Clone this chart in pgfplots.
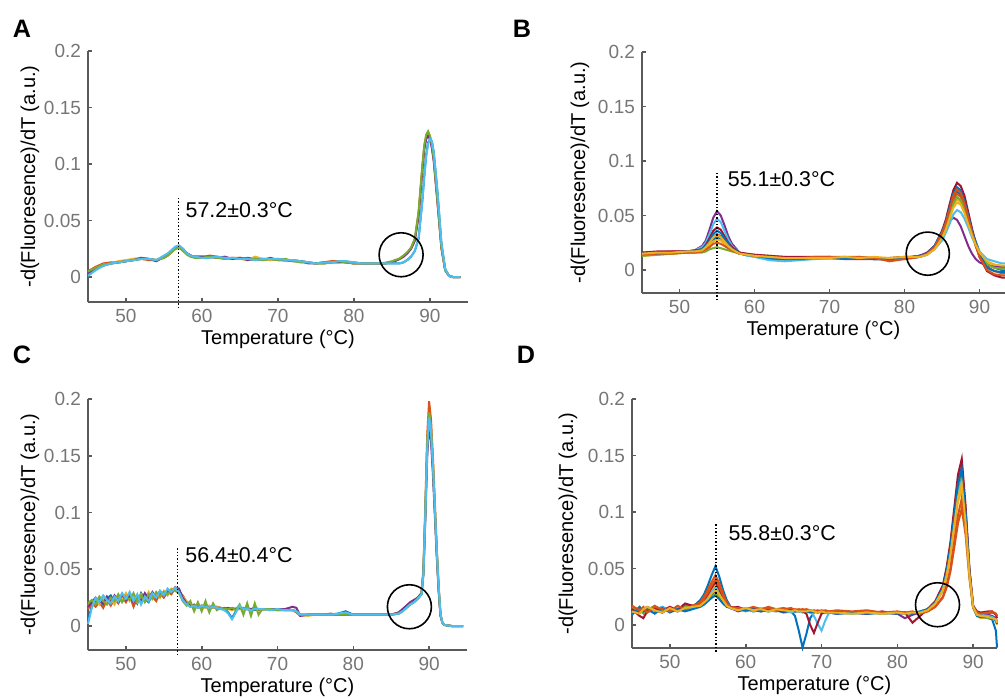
\documentclass[border=0pt]{standalone}
\usepackage{fontspec}
\setmainfont{Liberation Sans}
\usepackage{pgfplots}
\usepackage{pgfplotstable}
\pgfplotsset{compat=1.18}

% MATLAB default line colours
\definecolor{mblue}{RGB}{0,114,189}
\definecolor{morange}{RGB}{217,83,25}
\definecolor{myellow}{RGB}{237,177,32}
\definecolor{mpurple}{RGB}{126,47,142}
\definecolor{mgreen}{RGB}{119,172,48}
\definecolor{mlblue}{RGB}{77,190,238}
\definecolor{mred}{RGB}{162,20,47}
\definecolor{axgray}{RGB}{90,90,90}
\definecolor{txgray}{RGB}{118,118,118}

\pgfplotsset{
  melt/.style={
    scale only axis,
    axis lines=left,
    axis line style={-, axgray, line width=1pt},
    tick align=inside,
    major tick length=2pt,
    tick style={axgray, line width=0.8pt},
    xmin=45, ymax=0.2,
    xtick={50,60,70,80,90},
    ytick={0,0.05,0.1,0.15,0.2},
    yticklabels={0,0.05,0.1,0.15,0.2},
    /pgf/number format/assume math mode=true,
    tick label style={font=\fontsize{9.5}{11}\selectfont, text=txgray},
    label style={font=\fontsize{10.4}{12}\selectfont, text=txgray},
    every axis x label/.style={at={(axis description cs:0.5,0)}, anchor=center, yshift=-18.5pt},
    every axis y label/.style={at={(axis description cs:0,0.5)}, anchor=center, xshift=-29pt, rotate=90},
    xlabel={Temperature (°C)},
    ylabel={-d(Fluoresence)/dT (a.u.)},
    clip=false,
    cycle list={{mblue},{morange},{myellow},{mpurple},{mgreen},{mlblue},{mred}},
    every axis plot/.append style={line width=1pt, mark=none},
  },
}
\tikzset{
  tmark/.style={densely dotted, black, line width=0.7pt},
  tnote/.style={anchor=west, inner sep=0pt, font=\fontsize{10.7}{12}\selectfont},
  ring/.style={black, line width=0.8pt},
  plabel/.style={font=\bfseries\fontsize{12.6}{14}\selectfont},
}

% panel A: T, six runs
\pgfplotstableread{
T c1 c2 c3 c4 c5 c6
45 0.003 0.005 0.004 0.004 0.005 0.001
46 0.008 0.009 0.008 0.007 0.008 0.006
47 0.011 0.012 0.011 0.010 0.011 0.010
48 0.012 0.013 0.012 0.012 0.012 0.012
49 0.013 0.013 0.014 0.013 0.013 0.013
50 0.014 0.014 0.015 0.014 0.014 0.014
51 0.015 0.016 0.016 0.015 0.015 0.015
52 0.016 0.016 0.017 0.017 0.016 0.016
53 0.016 0.015 0.016 0.016 0.016 0.016
54 0.015 0.015 0.015 0.014 0.015 0.015
55 0.018 0.017 0.018 0.018 0.017 0.019
55.5 0.020 0.019 0.020 0.020 0.019 0.021
56 0.023 0.022 0.023 0.023 0.022 0.024
56.5 0.026 0.025 0.026 0.026 0.025 0.027
57 0.027 0.026 0.027 0.027 0.026 0.028
57.5 0.025 0.024 0.024 0.024 0.023 0.025
58 0.021 0.021 0.020 0.021 0.020 0.021
58.5 0.019 0.019 0.018 0.019 0.018 0.019
59 0.018 0.018 0.018 0.018 0.017 0.018
60 0.018 0.017 0.018 0.018 0.017 0.017
61 0.018 0.019 0.017 0.018 0.018 0.017
62 0.017 0.018 0.018 0.017 0.017 0.018
63 0.017 0.016 0.017 0.018 0.016 0.017
64 0.016 0.017 0.016 0.016 0.017 0.017
65 0.016 0.017 0.016 0.017 0.016 0.016
66 0.017 0.016 0.015 0.015 0.016 0.016
67 0.016 0.015 0.018 0.016 0.016 0.015
68 0.016 0.016 0.016 0.015 0.015 0.016
69 0.015 0.016 0.015 0.017 0.016 0.016
70 0.016 0.015 0.016 0.015 0.015 0.016
71 0.015 0.015 0.014 0.015 0.016 0.015
72 0.015 0.014 0.015 0.014 0.014 0.015
73 0.014 0.014 0.013 0.014 0.013 0.014
74 0.013 0.013 0.013 0.012 0.013 0.013
75 0.012 0.012 0.012 0.012 0.012 0.012
76 0.012 0.013 0.012 0.013 0.012 0.013
77 0.013 0.014 0.013 0.013 0.013 0.013
78 0.014 0.014 0.013 0.013 0.014 0.014
79 0.013 0.013 0.014 0.013 0.013 0.014
80 0.013 0.012 0.012 0.012 0.012 0.013
81 0.012 0.012 0.012 0.012 0.012 0.012
82 0.012 0.012 0.012 0.012 0.012 0.012
83 0.012 0.012 0.012 0.012 0.012 0.012
84 0.012 0.012 0.012 0.012 0.0125 0.012
85 0.012 0.013 0.013 0.013 0.014 0.012
86 0.012 0.016 0.016 0.016 0.0165 0.012
86.5 0.013 0.018 0.018 0.018 0.019 0.013
87 0.015 0.021 0.021 0.021 0.022 0.015
87.5 0.018 0.025 0.025 0.025 0.026 0.018
88 0.023 0.033 0.033 0.032 0.034 0.023
88.5 0.034 0.056 0.056 0.054 0.058 0.034
89 0.068 0.097 0.097 0.095 0.099 0.068
89.25 0.090 0.115 0.115 0.113 0.117 0.089
89.5 0.108 0.124 0.124 0.122 0.126 0.107
89.75 0.119 0.127 0.127 0.125 0.129 0.118
90 0.122 0.124 0.124 0.122 0.125 0.122
90.25 0.120 0.116 0.116 0.114 0.117 0.120
90.5 0.110 0.104 0.104 0.102 0.105 0.110
91 0.074 0.066 0.066 0.065 0.067 0.074
91.5 0.030 0.026 0.026 0.026 0.027 0.030
92 0.007 0.006 0.006 0.006 0.006 0.007
92.5 0.001 0.001 0.001 0.001 0.001 0.001
93 0 0 0 0 0 0
94 0 0 0 0 0 0
}\tabA

% panel B: ten runs
\pgfplotstableread{
T c1 c2 c3 c4 c5 c6 c7 c8 c9 c10
45 0.014 0.016 0.013 0.015 0.013 0.014 0.016 0.015 0.014 0.015
47 0.015 0.016 0.014 0.016 0.014 0.015 0.017 0.015 0.015 0.016
49 0.016 0.017 0.015 0.016 0.015 0.016 0.017 0.016 0.015 0.016
51 0.016 0.017 0.016 0.017 0.016 0.017 0.017 0.017 0.016 0.017
52 0.017 0.017 0.016 0.018 0.016 0.018 0.018 0.017 0.016 0.017
53 0.018 0.019 0.018 0.022 0.016 0.021 0.019 0.019 0.017 0.018
53.5 0.020 0.021 0.020 0.027 0.017 0.025 0.023 0.022 0.019 0.021
54 0.024 0.025 0.023 0.037 0.019 0.033 0.029 0.027 0.021 0.025
54.5 0.028 0.030 0.026 0.048 0.020 0.042 0.036 0.033 0.024 0.030
55 0.030 0.033 0.028 0.054 0.021 0.047 0.039 0.036 0.025 0.032
55.5 0.029 0.031 0.027 0.050 0.020 0.044 0.037 0.034 0.024 0.030
56 0.025 0.027 0.024 0.041 0.019 0.036 0.031 0.029 0.022 0.026
56.5 0.021 0.022 0.021 0.031 0.018 0.028 0.025 0.024 0.020 0.022
57 0.018 0.019 0.018 0.024 0.017 0.022 0.021 0.020 0.018 0.019
58 0.015 0.015 0.015 0.016 0.015 0.016 0.016 0.015 0.015 0.015
59 0.014 0.014 0.014 0.014 0.014 0.013 0.015 0.014 0.014 0.014
60 0.013 0.013 0.013 0.013 0.014 0.012 0.014 0.013 0.013 0.013
62 0.010 0.012 0.012 0.012 0.013 0.009 0.013 0.011 0.012 0.012
64 0.009 0.011 0.011 0.011 0.012 0.008 0.012 0.010 0.011 0.011
66 0.010 0.011 0.011 0.011 0.011 0.009 0.012 0.010 0.011 0.011
68 0.011 0.011 0.011 0.011 0.011 0.010 0.012 0.011 0.012 0.011
70 0.011 0.012 0.011 0.011 0.011 0.011 0.012 0.011 0.012 0.011
72 0.011 0.011 0.012 0.010 0.011 0.011 0.011 0.011 0.012 0.012
74 0.011 0.012 0.011 0.010 0.011 0.011 0.011 0.011 0.012 0.011
76 0.010 0.011 0.011 0.010 0.010 0.011 0.011 0.010 0.011 0.012
78 0.010 0.009 0.011 0.010 0.010 0.011 0.011 0.010 0.008 0.011
80 0.011 0.011 0.012 0.011 0.011 0.011 0.012 0.011 0.010 0.012
81 0.011 0.012 0.012 0.012 0.011 0.012 0.012 0.012 0.011 0.012
82 0.012 0.013 0.012 0.013 0.012 0.012 0.013 0.013 0.012 0.012
83 0.015 0.015 0.014 0.016 0.014 0.014 0.015 0.015 0.015 0.014
84 0.021 0.021 0.020 0.022 0.020 0.019 0.022 0.022 0.021 0.019
85 0.033 0.032 0.030 0.032 0.030 0.027 0.036 0.035 0.034 0.029
85.5 0.042 0.041 0.038 0.039 0.039 0.034 0.046 0.044 0.043 0.037
86 0.054 0.053 0.049 0.045 0.050 0.042 0.060 0.057 0.055 0.047
86.5 0.066 0.064 0.060 0.048 0.061 0.051 0.073 0.070 0.068 0.057
87 0.072 0.070 0.065 0.046 0.067 0.055 0.080 0.076 0.074 0.062
87.5 0.069 0.067 0.062 0.040 0.064 0.053 0.077 0.073 0.071 0.060
88 0.060 0.058 0.054 0.031 0.056 0.047 0.068 0.063 0.061 0.052
88.5 0.048 0.046 0.044 0.022 0.045 0.039 0.053 0.050 0.048 0.042
89 0.036 0.033 0.033 0.015 0.034 0.030 0.038 0.036 0.034 0.032
89.5 0.026 0.022 0.024 0.010 0.024 0.023 0.024 0.024 0.022 0.023
90 0.017 0.013 0.016 0.007 0.015 0.017 0.012 0.014 0.012 0.016
91 0.006 0.003 0.007 0.004 0.005 0.010 -0.001 0.002 0.000 0.008
92 0.002 -0.001 0.004 0.003 0.002 0.008 -0.005 -0.001 -0.004 0.005
93 0.000 -0.003 0.002 0.003 0.001 0.006 -0.007 -0.002 -0.005 0.004
93.4 0.000 -0.003 0.002 0.003 0.001 0.006 -0.007 -0.002 -0.005 0.004
}\tabB

% panel C: six noisy runs
\pgfplotstableread{
T c1 c2 c3 c4 c5 c6
45.0 0.004 0.015 0.018 0.017 0.020 0.002
45.5 0.018 0.020 0.022 0.021 0.023 0.016
46.0 0.022 0.017 0.024 0.025 0.019 0.025
46.5 0.025 0.021 0.019 0.022 0.026 0.021
47.0 0.019 0.016 0.025 0.020 0.022 0.027
47.5 0.024 0.023 0.021 0.026 0.019 0.023
48.0 0.027 0.018 0.024 0.021 0.025 0.020
48.5 0.021 0.024 0.019 0.027 0.022 0.026
49.0 0.025 0.020 0.027 0.022 0.028 0.022
49.5 0.022 0.026 0.023 0.028 0.021 0.029
50.0 0.028 0.021 0.029 0.023 0.026 0.024
50.5 0.023 0.027 0.022 0.026 0.023 0.030
51.0 0.027 0.017 0.026 0.021 0.029 0.022
51.5 0.020 0.025 0.021 0.027 0.022 0.028
52.0 0.029 0.021 0.028 0.022 0.027 0.019
52.5 0.024 0.028 0.023 0.029 0.021 0.026
53.0 0.021 0.023 0.030 0.024 0.028 0.022
53.5 0.028 0.026 0.024 0.030 0.024 0.029
54.0 0.024 0.022 0.029 0.025 0.030 0.025
54.5 0.030 0.029 0.025 0.031 0.026 0.031
55.0 0.026 0.025 0.031 0.027 0.030 0.027
55.5 0.031 0.030 0.027 0.032 0.028 0.033
56.0 0.029 0.028 0.033 0.030 0.032 0.030
56.5 0.033 0.034 0.032 0.034 0.031 0.034
57.0 0.032 0.030 0.031 0.033 0.029 0.030
57.5 0.024 0.027 0.026 0.025 0.022 0.023
58.0 0.020 0.021 0.022 0.020 0.018 0.019
58.5 0.018 0.017 0.019 0.018 0.022 0.017
59.0 0.017 0.019 0.017 0.018 0.013 0.018
59.5 0.018 0.016 0.018 0.017 0.021 0.016
60.0 0.016 0.018 0.017 0.018 0.013 0.018
60.5 0.018 0.017 0.016 0.017 0.022 0.017
61.0 0.017 0.016 0.018 0.016 0.012 0.016
61.5 0.016 0.017 0.016 0.017 0.020 0.017
62.0 0.017 0.016 0.017 0.016 0.014 0.016
62.5 0.016 0.015 0.016 0.016 0.016 0.015
63.0 0.015 0.016 0.015 0.015 0.015 0.014
63.5 0.012 0.015 0.015 0.016 0.015 0.011
64.0 0.007 0.016 0.014 0.015 0.016 0.006
64.5 0.013 0.015 0.016 0.015 0.014 0.012
65.0 0.017 0.015 0.015 0.016 0.019 0.018
65.5 0.015 0.016 0.015 0.015 0.010 0.015
66.0 0.015 0.015 0.016 0.015 0.020 0.015
66.5 0.015 0.015 0.015 0.015 0.009 0.014
67.0 0.014 0.015 0.015 0.016 0.020 0.015
67.5 0.015 0.014 0.015 0.015 0.010 0.015
68.0 0.015 0.015 0.014 0.015 0.015 0.015
69 0.015 0.014 0.015 0.015 0.015 0.014
70 0.014 0.015 0.014 0.015 0.014 0.015
71 0.014 0.014 0.015 0.015 0.014 0.014
72 0.014 0.014 0.014 0.017 0.014 0.014
72.5 0.013 0.012 0.013 0.016 0.013 0.013
73 0.010 0.009 0.010 0.009 0.010 0.010
74 0.010 0.010 0.009 0.010 0.010 0.010
75 0.010 0.010 0.010 0.010 0.010 0.010
76 0.010 0.010 0.010 0.010 0.010 0.010
77 0.010 0.011 0.010 0.010 0.010 0.010
78 0.011 0.010 0.010 0.010 0.010 0.011
79 0.013 0.010 0.011 0.010 0.010 0.012
80 0.010 0.010 0.010 0.010 0.010 0.010
82 0.010 0.010 0.010 0.010 0.010 0.010
84 0.010 0.010 0.010 0.010 0.010 0.010
85 0.010 0.010 0.010 0.010 0.010 0.010
86 0.011 0.012 0.012 0.012 0.011 0.011
86.5 0.013 0.014 0.014 0.015 0.013 0.013
87 0.016 0.017 0.017 0.018 0.016 0.016
87.5 0.019 0.020 0.020 0.021 0.019 0.019
88 0.021 0.022 0.022 0.023 0.021 0.021
88.5 0.024 0.025 0.025 0.025 0.024 0.024
89 0.028 0.029 0.029 0.029 0.028 0.028
89.25 0.047 0.050 0.048 0.046 0.048 0.046
89.5 0.098 0.105 0.100 0.094 0.101 0.097
89.75 0.156 0.168 0.160 0.150 0.161 0.155
90 0.184 0.198 0.188 0.176 0.188 0.184
90.25 0.170 0.182 0.173 0.163 0.173 0.171
90.5 0.140 0.150 0.143 0.134 0.143 0.142
90.75 0.103 0.110 0.105 0.099 0.105 0.105
91 0.066 0.070 0.067 0.063 0.067 0.068
91.25 0.034 0.035 0.034 0.032 0.034 0.036
91.5 0.010 0.010 0.010 0.009 0.010 0.011
91.75 0.003 0.003 0.003 0.003 0.003 0.003
92 0.001 0.001 0.001 0.001 0.001 0.001
93 0 0 0 0 0 0
94.5 0 0 0 0 0 0
}\tabC

% panel D: ten noisy runs
\pgfplotstableread{
T c1 c2 c3 c4 c5 c6 c7 c8 c9 c10
45 0.012 0.015 0.010 0.013 0.016 0.011 0.014 0.009 0.017 0.012
46 0.014 0.012 0.016 0.011 0.013 0.015 0.008 0.016 0.013 0.010
46.5 0.011 0.016 0.012 0.014 0.010 0.013 0.006 0.012 0.015 0.014
47 0.015 0.013 0.014 0.016 0.014 0.011 0.012 0.014 0.011 0.016
48 0.012 0.017 0.011 0.013 0.016 0.014 0.015 0.010 0.016 0.013
49 0.016 0.013 0.015 0.011 0.012 0.016 0.011 0.015 0.014 0.011
50 0.013 0.016 0.012 0.015 0.015 0.012 0.016 0.011 0.012 0.015
51 0.015 0.012 0.016 0.012 0.013 0.015 0.013 0.014 0.017 0.012
52 0.014 0.018 0.013 0.015 0.016 0.013 0.019 0.012 0.014 0.015
53 0.016 0.017 0.015 0.015 0.015 0.016 0.017 0.014 0.017 0.016
54 0.022 0.020 0.018 0.017 0.017 0.018 0.019 0.016 0.019 0.017
54.5 0.027 0.025 0.021 0.020 0.019 0.021 0.022 0.018 0.023 0.020
55 0.035 0.031 0.026 0.023 0.022 0.024 0.027 0.021 0.028 0.023
55.5 0.044 0.038 0.031 0.027 0.025 0.029 0.033 0.024 0.035 0.028
56 0.052 0.044 0.035 0.030 0.028 0.033 0.038 0.026 0.040 0.031
56.5 0.043 0.037 0.030 0.026 0.025 0.028 0.032 0.023 0.034 0.027
57 0.031 0.028 0.023 0.021 0.020 0.023 0.025 0.019 0.026 0.022
57.5 0.022 0.020 0.018 0.017 0.017 0.018 0.019 0.016 0.019 0.017
58 0.016 0.016 0.015 0.015 0.015 0.015 0.015 0.015 0.015 0.015
59 0.013 0.015 0.014 0.012 0.014 0.013 0.016 0.014 0.015 0.013
60 0.014 0.013 0.015 0.014 0.012 0.015 0.013 0.013 0.014 0.015
61 0.012 0.015 0.013 0.013 0.014 0.012 0.015 0.014 0.016 0.013
62 0.013 0.014 0.015 0.012 0.013 0.014 0.013 0.012 0.014 0.014
63 0.012 0.016 0.013 0.014 0.012 0.013 0.014 0.013 0.015 0.012
64 0.013 0.014 0.012 0.013 0.014 0.012 0.013 0.014 0.013 0.014
65 0.011 0.015 0.013 0.012 0.013 0.013 0.012 0.012 0.014 0.013
66 0.012 0.013 0.012 0.013 0.012 0.011 0.013 0.013 0.015 0.012
66.5 0.008 0.014 0.013 0.012 0.013 0.012 0.012 0.012 0.013 0.013
67 -0.005 0.013 0.012 0.013 0.012 0.012 0.013 0.012 0.014 0.012
67.5 -0.020 0.014 0.013 0.012 0.012 0.011 0.012 0.013 0.013 0.012
68 -0.008 0.013 0.012 0.012 0.013 0.012 0.010 0.012 0.014 0.012
68.5 0.006 0.012 0.012 0.013 0.012 0.012 0.000 0.011 0.013 0.013
69 0.011 0.013 0.011 0.012 0.012 0.008 -0.007 0.012 0.012 0.012
69.5 0.012 0.012 0.012 0.011 0.012 0.001 0.002 0.011 0.013 0.011
70 0.011 0.013 0.011 0.012 0.011 -0.005 0.010 0.012 0.012 0.012
70.5 0.011 0.012 0.012 0.011 0.011 0.004 0.012 0.011 0.013 0.011
71 0.011 0.012 0.011 0.011 0.012 0.011 0.011 0.011 0.012 0.011
72 0.010 0.012 0.011 0.010 0.011 0.011 0.012 0.010 0.013 0.011
74 0.011 0.011 0.010 0.011 0.010 0.010 0.011 0.011 0.012 0.010
76 0.010 0.012 0.011 0.010 0.011 0.011 0.010 0.010 0.013 0.011
78 0.011 0.010 0.010 0.011 0.010 0.010 0.012 0.011 0.011 0.010
80 0.010 0.011 0.011 0.010 0.011 0.011 0.010 0.010 0.012 0.011
81 0.011 0.010 0.010 0.006 0.010 0.010 0.011 0.011 0.011 0.010
82 0.010 0.011 0.010 0.009 0.011 0.011 0.002 0.010 0.012 0.011
83 0.011 0.011 0.011 0.011 0.011 0.012 0.008 0.012 0.010 0.011
84 0.014 0.012 0.013 0.014 0.014 0.014 0.014 0.014 0.012 0.013
85 0.020 0.016 0.019 0.020 0.020 0.019 0.021 0.020 0.016 0.019
86 0.032 0.024 0.030 0.033 0.033 0.031 0.035 0.033 0.025 0.031
86.5 0.047 0.033 0.043 0.049 0.048 0.045 0.051 0.048 0.035 0.044
87 0.066 0.047 0.061 0.070 0.068 0.064 0.073 0.069 0.050 0.063
87.5 0.093 0.068 0.085 0.098 0.095 0.090 0.103 0.097 0.073 0.088
88 0.120 0.090 0.109 0.127 0.123 0.116 0.133 0.125 0.097 0.113
88.5 0.132 0.103 0.120 0.140 0.135 0.128 0.147 0.138 0.112 0.125
89 0.095 0.080 0.087 0.101 0.098 0.093 0.106 0.100 0.088 0.091
89.5 0.047 0.042 0.043 0.049 0.048 0.045 0.051 0.048 0.046 0.045
90 0.016 0.015 0.015 0.016 0.016 0.016 0.017 0.016 0.016 0.016
90.5 0.009 0.010 0.008 0.011 0.009 0.010 0.012 0.008 0.011 0.009
91 0.007 0.009 0.006 0.010 0.008 0.009 0.011 0.007 0.010 0.008
92 0.006 0.010 0.007 0.009 0.006 0.008 0.012 0.007 0.011 0.007
92.5 0.005 0.011 0.006 0.008 0.007 0.007 0.012 0.006 0.012 0.006
93 -0.005 0.010 0.003 0.006 0.004 0.005 0.009 0.004 0.010 0.005
93.15 -0.020 0.008 0.000 0.003 0.001 0.002 0.006 0.001 0.008 0.002
}\tabD

\begin{document}
\begin{tikzpicture}
\useasboundingbox (0,0) rectangle (502.5pt,349pt);

% A
\begin{axis}[melt, at={(44pt,198pt)}, anchor=south west,
  width=190pt, height=125.5pt, xmax=95, ymin=-0.0221]
  \pgfplotsinvokeforeach{1,...,6}{\addplot table[x index=0, y index=#1] {\tabA};}
  \draw[tmark] (axis cs:56.9,0.07) -- (axis cs:56.9,-0.027);
  \node[tnote] at (axis cs:57.8,0.059) {57.2±0.3°C};
  \draw[ring] (axis cs:86.2,0.0197) circle[radius=11pt];
\end{axis}

% B
\begin{axis}[melt, at={(321pt,202.5pt)}, anchor=south west,
  width=181.5pt, height=120.5pt, xmax=93.4, ymin=-0.0211,
  ylabel style={yshift=2pt}]
  \pgfplotsinvokeforeach{1,...,10}{\addplot table[x index=0, y index=#1] {\tabB};}
  \draw[tmark] (axis cs:55.0,0.089) -- (axis cs:55.0,-0.027);
  \node[tnote] at (axis cs:56.4,0.083) {55.1±0.3°C};
  \draw[ring] (axis cs:83.1,0.015) circle[radius=10.8pt];
\end{axis}

% C
\begin{axis}[melt, at={(44pt,24pt)}, anchor=south west,
  width=189.5pt, height=125.5pt, xmax=95, ymin=-0.0211]
  \pgfplotsinvokeforeach{1,...,6}{\addplot table[x index=0, y index=#1] {\tabC};}
  \draw[tmark] (axis cs:56.8,0.0685) -- (axis cs:56.8,-0.0256);
  \node[tnote] at (axis cs:57.8,0.0626) {56.4±0.4°C};
  \draw[ring] (axis cs:87.4,0.017) circle[radius=11pt];
\end{axis}

% D
\begin{axis}[melt, at={(316pt,25pt)}, anchor=south west,
  width=182.5pt, height=124.5pt, xmax=93.15, ymin=-0.0204,
  ylabel style={yshift=3pt}]
  \pgfplotsinvokeforeach{1,...,10}{\addplot table[x index=0, y index=#1] {\tabD};}
  \draw[tmark] (axis cs:56.1,0.089) -- (axis cs:56.1,-0.0253);
  \node[tnote] at (axis cs:57.7,0.081) {55.8±0.3°C};
  \draw[ring] (axis cs:85.3,0.0179) circle[radius=11pt];
\end{axis}

\node[plabel] at (11pt,334.5pt) {A};
\node[plabel] at (261pt,334.5pt) {B};
\node[plabel] at (11pt,171.5pt) {C};
\node[plabel] at (263pt,171.5pt) {D};
\end{tikzpicture}
\end{document}
